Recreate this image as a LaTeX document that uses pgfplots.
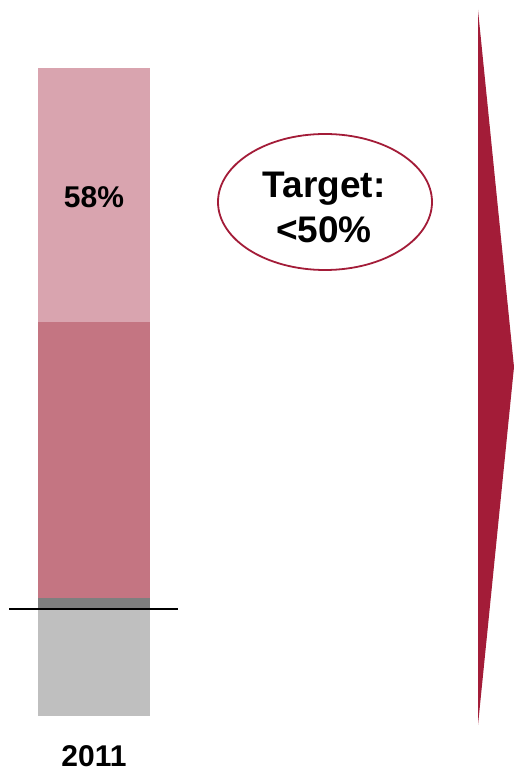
\documentclass[border=0pt]{standalone}
\usepackage{pgfplots}
\pgfplotsset{compat=1.18}
\usepackage{fontspec}
\setmainfont{Liberation Sans}
\definecolor{lpink}{HTML}{D9A4AF}
\definecolor{mpink}{HTML}{C47582}
\definecolor{dgray}{HTML}{7F7F7F}
\definecolor{lgray}{HTML}{BFBFBF}
\definecolor{crim}{HTML}{A31C38}
\begin{document}
\begin{tikzpicture}
\pgfplotsset{base/.style={scale only axis, width=514pt, height=772pt,
  xmin=0, xmax=514, ymin=-56, ymax=716, hide axis, clip=false}}
\begin{axis}[base, ybar stacked, bar width=112pt]
\addplot[fill=lgray, draw=none] coordinates {(94,107)};
\addplot[fill=dgray, draw=none] coordinates {(94,11)};
\addplot[fill=mpink, draw=none] coordinates {(94,276)};
\addplot[fill=lpink, draw=none] coordinates {(94,254)};
\end{axis}
\begin{axis}[base]
\path (axis cs:0,-56) rectangle (axis cs:514,716);
\addplot[black, line width=1.4pt] coordinates {(9,107) (178,107)};
\addplot[fill=crim, draw=none] coordinates {(478,706) (514,349) (478,-9)} -- cycle;
\draw[color=crim, line width=1.8pt, fill=white] (axis cs:325,514) ellipse [x radius=107, y radius=68];
\node[font=\fontsize{37}{45}\selectfont\bfseries, align=center, inner sep=0pt] at (axis cs:324,509) {Target:\\<50\%};
\node[font=\fontsize{30}{34}\selectfont\bfseries, inner sep=0pt] at (axis cs:94,519) {58\%};
\node[font=\fontsize{30}{34}\selectfont\bfseries, inner sep=0pt] at (axis cs:94,-40) {2011};
\end{axis}
\end{tikzpicture}
\end{document}
